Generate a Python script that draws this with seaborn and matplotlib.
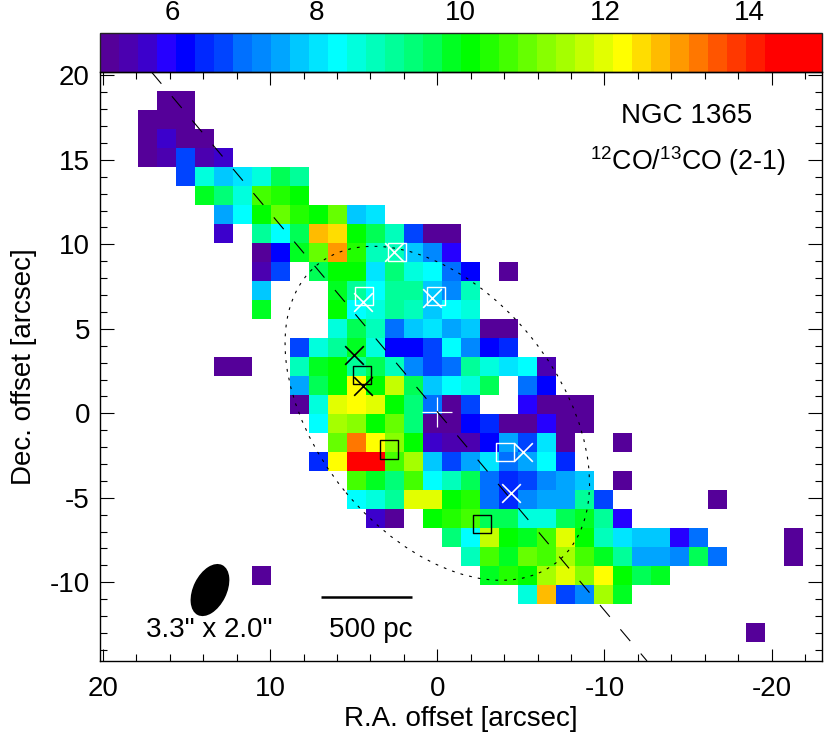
import numpy as np
import pandas as pd
import matplotlib
matplotlib.use('Agg')
import matplotlib.pyplot as plt
from matplotlib.colors import ListedColormap
from matplotlib.patches import Ellipse
from matplotlib.ticker import MultipleLocator
import seaborn as sns

na = np.nan

# 12CO/13CO ratio map, one list per declination row, north at the top
# (short rows are padded with blanks on the right)
r00 = [na]
r01 = [na, na, na, 5.1, 5.1]
r02 = [na, na, 5.1, 5.1, 5.1]
r03 = [na, na, 5.1, 5.7, 5.1, 5.1]
r04 = [na, na, 5.1, 5.4, 6.7, 5.4, 5.7]
r05 = [na, na, na, na, 6.7, 8.6, 7.8, 8.0, 8.6, 9.6, 9.1]
r06 = [na, na, na, na, na, 9.9, 9.3, 8.6, 10.7, 10.4, 10.1]
r07 = [na, na, na, na, na, na, 7.5, 8.3, 10.1, 10.9, 10.4, 10.1, 10.9, 7.8, 8.0]
r08 = [na, na, na, na, na, na, 5.7, na, 9.1, 8.3, 9.6, 12.8, 12.5, 10.1, 9.6, 8.8, 6.7, 5.1, 5.1]
r09 = [na, na, na, na, na, na, na, na, 5.1, 6.2, 9.9, 10.9, 13.0, 10.4, 8.8, 8.8, 7.8, 7.2, 5.9]
r10 = [na, na, na, na, na, na, na, na, 5.4, 6.7, na, 9.6, 10.1, 10.1, 8.0, 9.3, 8.6, 8.3, 7.0, 6.2, na, 5.1]
r11 = [na, na, na, na, na, na, na, na, 7.8, na, na, na, 9.9, 9.1, 8.3, 9.1, 9.1, 7.8, 7.2, 8.8]
r12 = [na, na, na, na, na, na, na, na, 9.9, na, na, na, 10.1, 8.3, 8.6, 9.1, 8.8, 7.8, 8.3, 8.6]
r13 = [na, na, na, na, na, na, na, na, na, na, na, na, 8.6, 9.6, 8.8, 7.0, 7.8, 8.0, 7.5, 7.8, 5.1, 5.1]
r14 = [na, na, na, na, na, na, na, na, na, na, 6.7, 8.6, 9.1, 9.9, 8.6, 6.2, 6.2, 6.7, 8.3, 7.2, 6.2, 6.4]
r15 = [na, na, na, na, na, na, 5.1, 5.1, na, na, 8.8, 9.9, 10.1, 9.1, 9.6, 8.8, 7.2, 6.7, 7.0, 9.1, 8.6, 8.0, 8.3, 5.4]
r16 = [na, na, na, na, na, na, na, na, na, na, 7.5, 9.6, 10.1, 12.2, 10.1, 11.7, 9.6, 7.8, 8.3, 8.6, 9.6, na, 7.0, 6.2]
r17 = [na, na, na, na, na, na, na, na, na, na, 5.1, 8.6, 12.0, 12.2, 12.0, 10.1, 9.3, 7.0, 5.1, 6.7, na, na, 5.9, 5.1, 5.1, 5.1]
r18 = [na, na, na, na, na, na, na, na, na, na, na, 8.3, 11.4, 11.2, 10.1, 10.9, 9.3, 5.1, 5.1, 6.2, 6.4, 5.1, 5.1, 5.9, 5.1, 5.1]
r19 = [na, na, na, na, na, na, na, na, na, na, na, na, 10.9, 13.3, 12.2, 11.2, 10.1, 5.7, 5.4, 5.4, 6.2, 7.5, 6.7, 8.0, 5.1, na, na, 5.1]
r20 = [na, na, na, na, na, na, na, na, na, na, na, 6.4, 12.2, 14.9, 14.9, 10.7, 11.4, 7.8, 6.7, 7.5, 8.0, 7.0, 7.5, 8.3, 6.4]
r21 = [na, na, na, na, na, na, na, na, na, na, na, na, na, 10.7, 9.9, 9.3, 10.7, 8.3, 8.8, 9.6, 7.0, 6.4, 6.7, 7.2, 7.5, 7.8, na, 5.1]
r22 = [na, na, na, na, na, na, na, na, na, na, na, na, na, 8.3, 8.6, 9.1, 12.0, 12.0, 10.1, 10.4, 7.0, 6.4, 7.2, 7.5, 7.5, 9.1, 6.7, na, na, na, na, na, 5.1]
r23 = [na, na, na, na, na, na, na, na, na, na, na, na, na, na, 5.7, 5.1, na, 10.1, 10.4, 10.7, 9.6, 9.6, 8.6, 8.6, 9.6, 9.9, 9.1, 5.9]
r24 = [na, na, na, na, na, na, na, na, na, na, na, na, na, na, na, na, na, na, 9.3, 8.3, 11.7, 10.1, 9.9, 10.7, 12.0, 10.1, 8.8, 8.0, 7.8, 7.8, 5.9, 7.0, na, na, na, na, 5.1]
r25 = [na, na, na, na, na, na, na, na, na, na, na, na, na, na, na, na, na, na, na, 8.8, 10.7, 9.9, 10.9, 10.7, 11.4, 10.7, 9.9, 9.1, 7.5, 7.5, 7.2, 9.6, 7.0, na, na, na, 5.1]
r26 = [na, na, na, na, na, na, na, na, 5.1, na, na, na, na, na, na, na, na, na, na, na, 9.9, 10.4, 10.1, 11.4, 12.0, 11.2, 12.2, 10.1, 9.6, 9.9]
r27 = [na, na, na, na, na, na, na, na, na, na, na, na, na, na, na, na, na, na, na, na, na, na, 8.6, 12.8, 6.7, 7.2, 11.4, 9.9]
r28 = [na]
r29 = [na, na, na, na, na, na, na, na, na, na, na, na, na, na, na, na, na, na, na, na, na, na, na, na, na, na, na, na, na, na, na, na, na, na, 5.1]
r30 = [na]

rows = [r00, r01, r02, r03, r04, r05, r06, r07, r08, r09, r10, r11, r12, r13, r14, r15,
        r16, r17, r18, r19, r20, r21, r22, r23, r24, r25, r26, r27, r28, r29, r30]

# colour table of the IDL style rainbow
colours = ['#550099', '#4b00b0', '#3c00cc', '#2600ff', '#0000ff', '#0028ff', '#0044ff', '#0070ff',
           '#0088ff', '#00a5ff', '#00c8ff', '#00e5ff', '#00ffff', '#00ffdd', '#00ffbb', '#00ff99',
           '#00ff77', '#00ff55', '#00ff22', '#00ff00', '#22ff00', '#44ff00', '#66ff00', '#88ff00',
           '#a5ff00', '#c4ff00', '#e2ff00', '#ffff00', '#ffdd00', '#ffbb00', '#ff9900', '#ff7700',
           '#ff5500', '#ff3800', '#ff1c00', '#ff0000', '#ff0000', '#ff0000']

# positions in arcsec
white_box_x = [2.4, 4.36, 0.08, -4.05]
white_box_y = [9.57, 6.93, 6.92, -2.28]
black_box_x = [4.5, 2.9, -2.69]
black_box_y = [2.26, -2.14, -6.57]
white_cross_x = [2.57, 4.46, 0.34, -5.14, -4.44]
white_cross_y = [9.52, 6.6, 6.8, -2.31, -4.7]
black_cross_x = [5.0, 4.44]
black_cross_y = [3.46, 1.63]
major_axis_x = [17.1, -12.55]
major_axis_y = [20.2, -14.66]
scale_bar_x = [6.95, 1.53]
scale_bar_y = [-10.9, -10.9]

sns.set_style('ticks')
plt.rcParams['font.family'] = 'Liberation Sans'
plt.rcParams['mathtext.default'] = 'regular'
plt.rcParams['axes.unicode_minus'] = False
plt.rcParams['font.size'] = 20
plt.rcParams['text.color'] = 'black'
plt.rcParams['axes.labelcolor'] = 'black'
plt.rcParams['xtick.color'] = 'black'
plt.rcParams['ytick.color'] = 'black'

W, H = 830, 735
fig = plt.figure(figsize=(W / 100, H / 100), dpi=100)
pos = [99.67 / W, 1 - 661 / H, 722 / W, 589 / H]
ax = fig.add_axes(pos)
cax = fig.add_axes([99.67 / W, 1 - 71.7 / H, 722 / W, 38.4 / H])

ratio = pd.DataFrame(rows, dtype=float).reindex(columns=range(38))
sns.heatmap(ratio, ax=ax, cbar_ax=cax, cmap=ListedColormap(colours), vmin=5, vmax=15,
            xticklabels=False, yticklabels=False,
            cbar_kws={'orientation': 'horizontal', 'ticks': [6, 8, 10, 12, 14]})
ax.tick_params(left=False, bottom=False)

cbar = ax.collections[0].colorbar
cbar.outline.set_linewidth(1.0)
cbar.outline.set_edgecolor('#222222')
cax.xaxis.set_ticks_position('top')
cax.tick_params(axis='x', direction='in', length=14, width=0.9, labelsize=20, pad=5, color='#222222')
cax.minorticks_off()

# second axes on top of the map, in sky offsets
sky = fig.add_axes(pos, facecolor='none')
sky.set_xlim(20.2, -23)
sky.set_ylim(-14.66, 20.2)
sky.xaxis.set_major_locator(MultipleLocator(10))
sky.xaxis.set_minor_locator(MultipleLocator(2))
sky.yaxis.set_major_locator(MultipleLocator(5))
sky.yaxis.set_minor_locator(MultipleLocator(1))
sky.tick_params(axis='x', which='major', direction='in', top=True, length=9, width=0.8, labelsize=20, pad=10.5)
sky.tick_params(axis='y', which='major', direction='in', right=True, length=10, width=0.8, labelsize=20, pad=7)
sky.tick_params(which='minor', direction='in', top=True, right=True, length=5, width=0.8)
for s in sky.spines.values():
    s.set_linewidth(1.0)
    s.set_color('black')
sky.set_xlabel('R.A. offset [arcsec]', fontsize=20, labelpad=3.5)
sky.set_ylabel('Dec. offset [arcsec]', fontsize=20, labelpad=9)

sky.plot(major_axis_x, major_axis_y, color='black', lw=0.8, linestyle=(0, (13.8, 14.7)))
sky.add_patch(Ellipse((0, 0), 22.7, 14.4, angle=50.5, fill=False, edgecolor='black', lw=0.8,
                      linestyle=(0, (2.5, 5.5))))

sky.scatter(white_box_x, white_box_y, marker='s', s=170, facecolors='none', edgecolors='white', linewidths=1.0)
sky.scatter(black_box_x, black_box_y, marker='s', s=170, facecolors='none', edgecolors='black', linewidths=1.0)
sky.scatter(white_cross_x, white_cross_y, marker='x', s=180, color='white', linewidths=1.2)
sky.scatter(black_cross_x, black_cross_y, marker='x', s=180, color='black', linewidths=1.2)
sky.scatter([0], [0.09], marker='+', s=466, color='white', linewidths=0.9)

# beam and scale bar
sky.add_patch(Ellipse((13.6, -10.46), 3.3, 2.0, angle=116.6, facecolor='black', edgecolor='none'))
sky.plot(scale_bar_x, scale_bar_y, color='black', lw=1.8, solid_capstyle='butt')

sky.text(13.63, -13.24, '3.3" x 2.0"', ha='center', va='baseline', fontsize=20)
sky.text(3.96, -13.24, '500 pc', ha='center', va='baseline', fontsize=20)
sky.text(-14.94, 17.17, 'NGC 1365', ha='center', va='baseline', fontsize=20)
sky.text(-15.0, 14.39, r'$^{12}$CO/$^{13}$CO (2-1)', ha='center', va='baseline', fontsize=19.3)

fig.savefig('out.png', dpi=100)
